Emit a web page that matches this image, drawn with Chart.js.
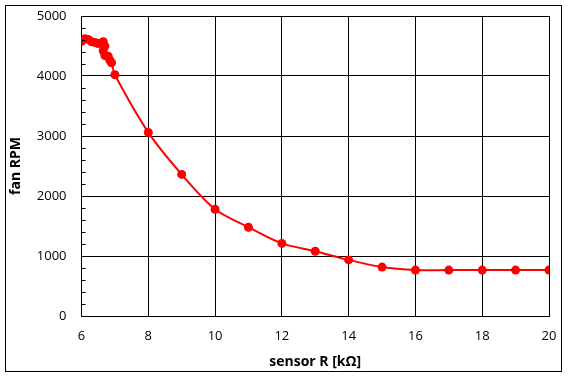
<!DOCTYPE html>
<html>
<head>
<meta charset="utf-8">
<script src="https://cdn.jsdelivr.net/npm/chart.js@4/dist/chart.umd.min.js"></script>
<style>
html,body{margin:0;padding:0;background:#fff;}
#wrap{width:568px;height:380px;position:relative;}
</style>
</head>
<body>
<div id="wrap"><canvas id="c" width="568" height="380"></canvas></div>
<script>
// Data
const sensorR = [6.0, 6.1, 6.2, 6.3, 6.4, 6.5, 6.6, 6.65, 6.7, 6.65, 6.7, 6.8, 6.85, 6.9, 7.0,
                 8, 9, 10, 11, 12, 13, 14, 15, 16, 17, 18, 19, 20];
const fanRPM  = [4580, 4620, 4610, 4570, 4560, 4540, 4550, 4570, 4500, 4420, 4340, 4330, 4260, 4220, 4020,
                 3060, 2360, 1780, 1480, 1210, 1080, 935, 815, 765, 765, 765, 765, 765];
const xTicks = [6, 8, 10, 12, 14, 16, 18, 20];
const yTicks = [0, 1000, 2000, 3000, 4000, 5000];
const yMinorStep = 200;

const points = sensorR.map((x, i) => ({x: x, y: fanRPM[i]}));

const frame = {
  id: 'frame',
  beforeDraw(chart) {
    const ctx = chart.ctx;
    ctx.save();
    ctx.fillStyle = '#fff';
    ctx.fillRect(0, 0, chart.width, chart.height);
    ctx.strokeStyle = '#000';
    ctx.lineWidth = 1;
    ctx.strokeRect(5.5, 5.5, 556, 366);
    ctx.restore();
  },
  afterDraw(chart) {
    // minor ticks on y-axis (inside plot)
    const ctx = chart.ctx, y = chart.scales.y, a = chart.chartArea;
    ctx.save();
    ctx.strokeStyle = '#000';
    ctx.lineWidth = 1;
    ctx.beginPath();
    for (let v = y.min; v <= y.max; v += yMinorStep) {
      if (v % 1000 === 0) continue;
      const py = Math.round(y.getPixelForValue(v)) + 0.5;
      ctx.moveTo(a.left, py);
      ctx.lineTo(a.left + 4, py);
    }
    ctx.stroke();
    ctx.restore();
  }
};

new Chart(document.getElementById('c'), {
  type: 'line',
  data: {
    datasets: [{
      data: points,
      borderColor: '#ff0000',
      backgroundColor: '#ff0000',
      borderWidth: 2,
      pointRadius: 4.5,
      pointHoverRadius: 4.5,
      pointBorderWidth: 0,
      tension: 0.3,
      fill: false
    }]
  },
  options: {
    responsive: false,
    animation: false,
    plugins: { legend: { display: false }, tooltip: { enabled: false } },
    layout: { autoPadding: false, padding: { left: 5, right: 19, top: 16, bottom: 8 } },
    scales: {
      x: {
        type: 'linear',
        min: 6, max: 20,
        afterFit: s => { s.height = 56; s.paddingLeft = 0; s.paddingRight = 0; },
        afterBuildTicks: s => { s.ticks = xTicks.map(v => ({value: v})); },
        ticks: { color: '#000', font: { family: 'Open Sans', size: 13 }, padding: 12,
                 callback: v => String(v) },
        grid: { color: '#000', lineWidth: 1, drawTicks: false },
        border: { color: '#000', width: 1 },
        title: { display: true, text: 'sensor R [kΩ]', color: '#000',
                 font: { family: 'Open Sans', size: 14, weight: 'bold' }, padding: { top: 0, bottom: 2 } }
      },
      y: {
        type: 'linear',
        min: 0, max: 5000,
        afterFit: s => { s.width = 76.5; s.paddingTop = 0; s.paddingBottom = 0; },
        afterBuildTicks: s => { s.ticks = yTicks.map(v => ({value: v})); },
        ticks: { color: '#000', font: { family: 'Open Sans', size: 13 }, padding: 15,
                 callback: v => String(v) },
        grid: { color: '#000', lineWidth: 1, drawTicks: false },
        border: { color: '#000', width: 1 },
        title: { display: true, text: 'fan RPM', color: '#000',
                 font: { family: 'Open Sans', size: 14, weight: 'bold' }, padding: { top: 3, bottom: 0 } }
      }
    }
  },
  plugins: [frame]
});
</script>
</body>
</html>
